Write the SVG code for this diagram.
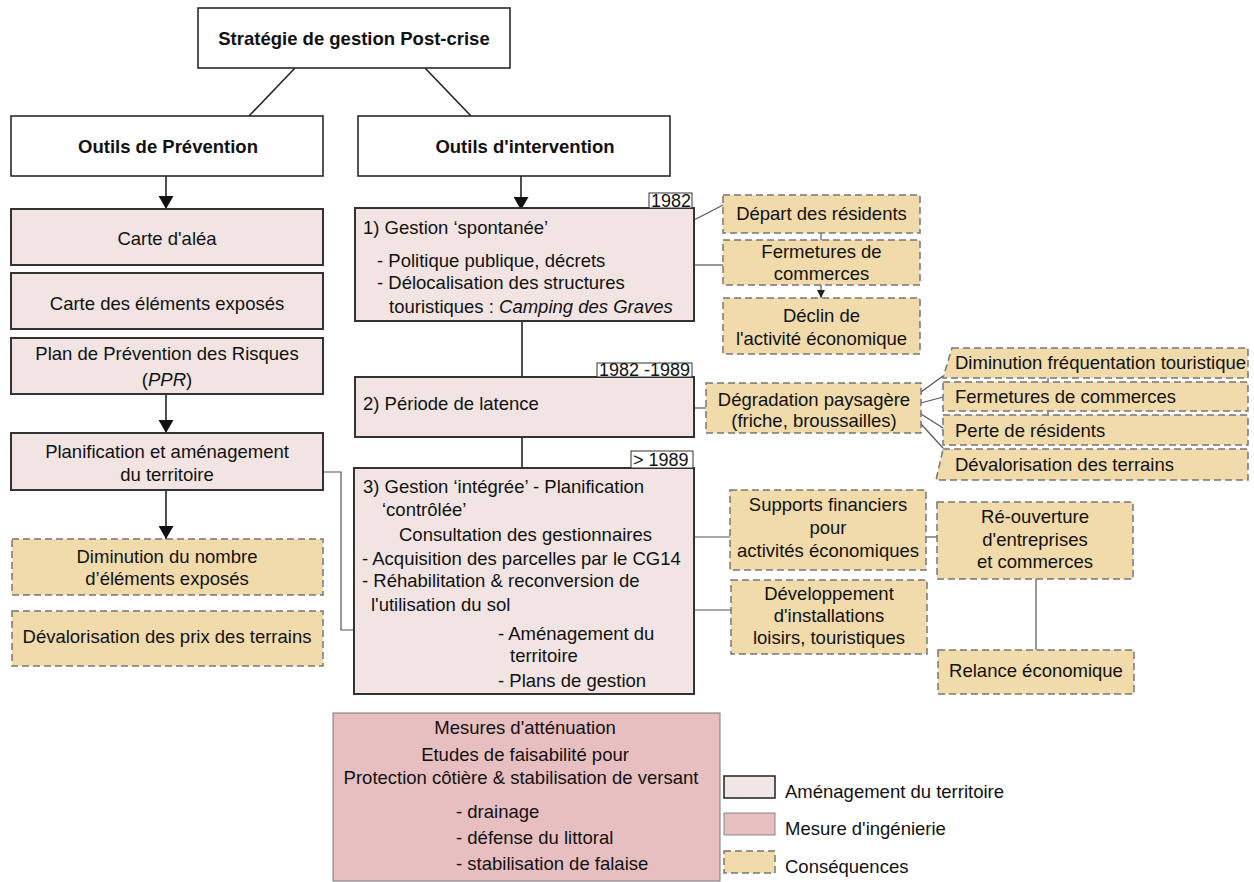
<svg xmlns="http://www.w3.org/2000/svg" width="1254" height="882" viewBox="0 0 1254 882">
<style>
text{font-family:"Liberation Sans",Arial,sans-serif;font-size:18.5px;fill:#111}
.b{font-weight:bold}
.c{text-anchor:middle}
.s{font-size:18px}
.wbox{fill:#fff;stroke:#2a2a2a;stroke-width:1.6}
.box{fill:#f2e4e2;stroke:#333;stroke-width:2}
.cons{fill:#f1dbab;stroke:#777;stroke-width:1.5;stroke-dasharray:7 4}
.mes{fill:#e8bfc0;stroke:#777;stroke-width:1}
.lbl{fill:#fff;stroke:#333;stroke-width:1}
.ln{stroke:#222;stroke-width:1.6;fill:none}
.gl{stroke:#555;stroke-width:1.2;fill:none}
</style>
<defs>
<marker id="ah" viewBox="0 0 13 15" refX="13" refY="7.5" markerWidth="13" markerHeight="15" markerUnits="userSpaceOnUse" orient="auto">
<path d="M0,0 L13,7.5 L0,15 z" fill="#111"/>
</marker>
<marker id="sa" viewBox="0 0 8 8" refX="8" refY="4" markerWidth="8" markerHeight="8" markerUnits="userSpaceOnUse" orient="auto">
<path d="M0,0 L8,4 L0,8 z" fill="#222"/>
</marker>
</defs>
<rect width="1254" height="882" fill="#fff"/>

<g id="connectors">
<line class="ln" x1="295" y1="68" x2="249" y2="116"/>
<line class="ln" x1="425" y1="68" x2="471" y2="116"/>
<line class="ln" x1="166" y1="176" x2="166" y2="209" marker-end="url(#ah)"/>
<line class="ln" x1="521" y1="176" x2="521" y2="210" marker-end="url(#ah)"/>
<line class="ln" x1="166" y1="394" x2="166" y2="433" marker-end="url(#ah)"/>
<line class="ln" x1="166" y1="490" x2="166" y2="539" marker-end="url(#ah)"/>
<polyline class="gl" points="323,472 341,472 341,630 354,630"/>
<line class="ln" x1="522" y1="321" x2="522" y2="377"/>
<line class="ln" x1="522" y1="437" x2="522" y2="468"/>
<line class="ln" x1="519" y1="501" x2="519" y2="530" marker-end="url(#sa)" style="stroke-width:1.2"/>
<polyline class="gl" points="439,623 439,657 500,657" marker-end="url(#sa)"/>
<line class="gl" x1="694" y1="220" x2="723" y2="205"/>
<line class="gl" x1="694" y1="265" x2="723" y2="265"/>
<line class="gl" x1="821" y1="233" x2="821" y2="240"/>
<line class="gl" x1="821" y1="276" x2="821" y2="298" marker-end="url(#sa)"/>
<line class="gl" x1="694" y1="408" x2="706" y2="408"/>
<line class="gl" x1="921" y1="392" x2="943" y2="376"/>
<line class="gl" x1="921" y1="403" x2="943" y2="397"/>
<line class="gl" x1="921" y1="414" x2="943" y2="428"/>
<line class="gl" x1="921" y1="424" x2="943" y2="448"/>
<line class="gl" x1="1048" y1="378" x2="1048" y2="382"/>
<line class="gl" x1="1048" y1="411" x2="1048" y2="415"/>
<line class="gl" x1="694" y1="537" x2="730" y2="537"/>
<line class="gl" x1="694" y1="610" x2="731" y2="610"/>
<line class="gl" x1="926" y1="537" x2="937" y2="537"/>
<line class="gl" x1="1036" y1="579" x2="1036" y2="650"/>
</g>

<g id="n-strategie">
<rect class="wbox" x="198" y="8" width="312" height="60"/>
<text class="b c" x="354" y="44.5">Stratégie de gestion Post-crise</text>
</g>
<g id="n-prevention">
<rect class="wbox" x="11" y="116" width="312" height="60"/>
<text class="b c" x="168" y="152.5">Outils de Prévention</text>
</g>
<g id="n-intervention">
<rect class="wbox" x="358" y="116" width="312" height="60"/>
<text class="b c" x="525" y="152.5">Outils d'intervention</text>
</g>

<g id="n-alea">
<rect class="box" x="11" y="209" width="312" height="56"/>
<text class="c" x="167" y="244.5">Carte d'aléa</text>
</g>
<g id="n-elements">
<rect class="box" x="11" y="273" width="312" height="56"/>
<text class="c" x="167" y="309.5">Carte des éléments exposés</text>
</g>
<g id="n-ppr">
<rect class="box" x="11" y="338" width="312" height="56"/>
<text class="c" x="167" y="360">Plan de Prévention des Risques</text>
<text class="c" x="167" y="386">(<tspan font-style="italic">PPR</tspan>)</text>
</g>
<g id="n-planif">
<rect class="box" x="11" y="433" width="312" height="57"/>
<text class="c" x="167" y="458">Planification et aménagement</text>
<text class="c" x="167" y="481">du territoire</text>
</g>
<g id="n-diminution">
<rect class="cons" x="12" y="539" width="311" height="56"/>
<text class="c" x="167" y="563">Diminution du nombre</text>
<text class="c" x="167" y="585">d’éléments exposés</text>
</g>
<g id="n-devalprix">
<rect class="cons" x="12" y="611" width="311" height="55"/>
<text class="c" x="167" y="643">Dévalorisation des prix des terrains</text>
</g>

<g id="n-spontanee">
<rect class="box" x="355" y="208" width="339" height="113"/>
<rect class="lbl" x="649" y="193" width="43" height="15"/>
<text class="s" x="651" y="207">1982</text>
<text x="363" y="234">1) Gestion ‘spontanée’</text>
<text x="377" y="267">- Politique publique, décrets</text>
<text x="377" y="289">- Délocalisation des structures</text>
<text x="389" y="313">touristiques : <tspan font-style="italic">Camping des Graves</tspan></text>
</g>
<g id="n-latence">
<rect class="box" x="355" y="377" width="339" height="60"/>
<rect class="lbl" x="597" y="363" width="95" height="14"/>
<text class="s" x="599" y="376">1982 -1989</text>
<text x="363" y="410">2) Période de latence</text>
</g>
<g id="n-integree">
<rect class="box" x="354" y="468" width="340" height="226"/>
<rect class="lbl" x="631" y="451" width="62" height="17"/>
<text class="s" x="633" y="466">&gt; 1989</text>
<text x="363" y="493">3) Gestion ‘intégrée’ - Planification</text>
<text x="382" y="516">‘contrôlée’</text>
<text x="399" y="541">Consultation des gestionnaires</text>
<text x="362" y="565">- Acquisition des parcelles par le CG14</text>
<text x="362" y="587">- Réhabilitation &amp; reconversion de</text>
<text x="371" y="611">l'utilisation du sol</text>
<text x="498" y="640">- Aménagement du</text>
<text x="510" y="662">territoire</text>
<text x="498" y="687">- Plans de gestion</text>
</g>

<g id="n-depart">
<rect class="cons" x="723" y="195" width="197" height="38"/>
<text class="c" x="821.5" y="219.5">Départ des résidents</text>
</g>
<g id="n-fermetures1">
<rect class="cons" x="723" y="240" width="197" height="45"/>
<text class="c" x="821.5" y="258">Fermetures de</text>
<text class="c" x="821.5" y="280">commerces</text>
</g>
<g id="n-declin">
<rect class="cons" x="723" y="298" width="197" height="56"/>
<text class="c" x="821.5" y="321.5">Déclin de</text>
<text class="c" x="821.5" y="344.5">l'activité économique</text>
</g>
<g id="n-degradation">
<rect class="cons" x="706" y="383" width="215" height="50"/>
<text class="c" x="814" y="406">Dégradation paysagère</text>
<text class="c" x="814" y="427">(friche, broussailles)</text>
</g>
<g id="n-freq">
<polygon class="cons" points="952,348 1248,348 1248,378 943,378"/>
<text x="955" y="369">Diminution fréquentation touristique</text>
</g>
<g id="n-fermetures2">
<rect class="cons" x="943" y="382" width="305" height="29"/>
<text x="955" y="403">Fermetures de commerces</text>
</g>
<g id="n-perte">
<rect class="cons" x="943" y="415" width="305" height="30"/>
<text x="955" y="437">Perte de résidents</text>
</g>
<g id="n-devalterrains">
<polygon class="cons" points="943,449 1248,449 1248,480 936,480"/>
<text x="955" y="471">Dévalorisation des terrains</text>
</g>
<g id="n-supports">
<rect class="cons" x="730" y="490" width="196" height="80"/>
<text class="c" x="828" y="511">Supports financiers</text>
<text class="c" x="828" y="534">pour</text>
<text class="c" x="828" y="557">activités économiques</text>
</g>
<g id="n-reouverture">
<rect class="cons" x="937" y="502" width="196" height="77"/>
<text class="c" x="1035" y="523">Ré-ouverture</text>
<text class="c" x="1035" y="546">d'entreprises</text>
<text class="c" x="1035" y="568">et commerces</text>
</g>
<g id="n-developpement">
<rect class="cons" x="731" y="580" width="196" height="74"/>
<text class="c" x="829" y="600">Développement</text>
<text class="c" x="829" y="622">d'installations</text>
<text class="c" x="829" y="644">loisirs, touristiques</text>
</g>
<g id="n-relance">
<rect class="cons" x="938" y="650" width="196" height="44"/>
<text class="c" x="1036" y="677">Relance économique</text>
</g>

<g id="n-mesures">
<rect class="mes" x="333" y="713" width="387" height="168"/>
<text class="c" x="525" y="734">Mesures d'atténuation</text>
<text class="c" x="525" y="761">Etudes de faisabilité pour</text>
<text class="c" x="521" y="784">Protection côtière &amp; stabilisation de versant</text>
<text x="456" y="818">- drainage</text>
<text x="456" y="844">- défense du littoral</text>
<text x="456" y="870">- stabilisation de falaise</text>
</g>

<g id="legend">
<rect x="724" y="776" width="51" height="22" fill="#f0e6e6" stroke="#222" stroke-width="1.5"/>
<text x="785" y="798">Aménagement du territoire</text>
<rect x="724" y="813" width="51" height="22" fill="#e8bfc0" stroke="#888" stroke-width="1"/>
<text x="785" y="834.5">Mesure d'ingénierie</text>
<rect class="cons" x="724" y="851" width="51" height="22"/>
<text x="785" y="873">Conséquences</text>
</g>
</svg>
